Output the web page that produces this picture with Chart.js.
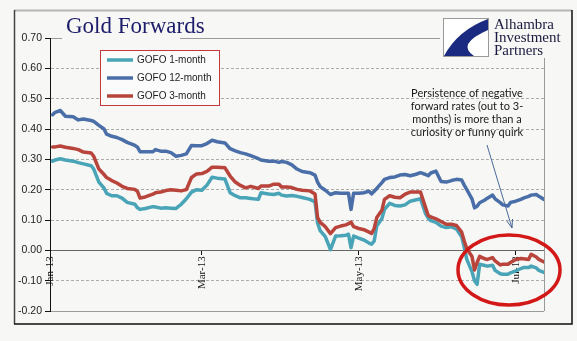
<!DOCTYPE html>
<html>
<head>
<meta charset="utf-8">
<script src="https://cdn.jsdelivr.net/npm/chart.js@4.4.0/dist/chart.umd.min.js"></script>
<style>
  body { margin: 0; background: #f7f7f5; }
  #wrap { width: 577px; height: 341px; }
</style>
</head>
<body>
<div id="wrap"><canvas id="chartGofo" width="577" height="341"></canvas></div>
<script>
// gold forward offered rates, 2013 (day 0 = 1 Jan)
let days = [1,2,4,6,9,11,13,16,17,19, 21,22,24,26,28,30,33,34,35,37,
  40,41,43,45,47,49,51,53,55,57, 59,61,63,65,68,70,72,74,76,78,
  81,82,85,87,89,90,92,94,96,98, 101,103,104,105,107,109,111,113,115,116,
  117,118,120,122,124,125,126,127,129,130, 132,134,136,138,140,142,144,146,147,148,
  150,152,154,156,158,160,161,162,164,165, 166,167,169,170,172,173,175,176,178,179,
  181,183,184,186,187,189,190,192];

let gofo1m = [0.294,0.298,0.302,0.298,0.294,0.289,0.285,0.279,0.268,0.225,
  0.205,0.188,0.180,0.180,0.172,0.158,0.152,0.140,0.135,0.138,
  0.144,0.143,0.139,0.140,0.139,0.138,0.152,0.170,0.192,0.200,
  0.198,0.215,0.241,0.238,0.235,0.190,0.180,0.173,0.173,0.171,
  0.168,0.190,0.186,0.184,0.188,0.182,0.179,0.181,0.178,0.174,
  0.168,0.160,0.090,0.065,0.045,0.002,0.047,0.048,0.050,0.053,
  0.009,0.047,0.040,0.034,0.024,0.020,0.031,0.080,0.105,0.135,
  0.155,0.148,0.146,0.150,0.162,0.166,0.170,0.120,0.106,0.098,
  0.092,0.080,0.075,0.078,0.070,0.045,0.010,-0.030,-0.070,-0.100,
  -0.112,-0.046,-0.050,-0.052,-0.049,-0.066,-0.077,-0.079,-0.079,-0.074,
  -0.068,-0.060,-0.057,-0.057,-0.052,-0.058,-0.066,-0.073];

let gofo12m = [0.447,0.455,0.461,0.442,0.440,0.430,0.433,0.428,0.425,0.412,
  0.400,0.383,0.376,0.372,0.365,0.356,0.346,0.340,0.325,0.325,
  0.325,0.332,0.327,0.327,0.322,0.310,0.313,0.318,0.346,0.345,
  0.345,0.352,0.363,0.358,0.354,0.335,0.328,0.322,0.318,0.312,
  0.302,0.298,0.294,0.294,0.290,0.293,0.290,0.282,0.268,0.260,
  0.256,0.248,0.225,0.210,0.198,0.184,0.190,0.188,0.188,0.188,
  0.135,0.188,0.188,0.190,0.195,0.186,0.195,0.204,0.223,0.234,
  0.240,0.242,0.248,0.250,0.246,0.250,0.256,0.250,0.246,0.255,
  0.261,0.227,0.225,0.230,0.234,0.232,0.215,0.200,0.170,0.140,
  0.145,0.157,0.166,0.172,0.182,0.170,0.157,0.150,0.146,0.158,
  0.162,0.168,0.172,0.178,0.182,0.184,0.178,0.168];

let gofo3m = [0.341,0.341,0.344,0.340,0.336,0.332,0.324,0.321,0.310,0.268,
  0.250,0.240,0.230,0.222,0.211,0.204,0.201,0.194,0.172,0.176,
  0.185,0.190,0.192,0.197,0.200,0.198,0.196,0.200,0.240,0.252,
  0.253,0.260,0.274,0.274,0.272,0.245,0.225,0.214,0.206,0.211,
  0.204,0.212,0.212,0.218,0.218,0.209,0.209,0.207,0.201,0.198,
  0.196,0.186,0.108,0.092,0.078,0.055,0.075,0.080,0.084,0.088,
  0.093,0.078,0.072,0.068,0.060,0.056,0.072,0.108,0.132,0.168,
  0.180,0.175,0.173,0.185,0.192,0.192,0.192,0.140,0.115,0.110,
  0.104,0.095,0.086,0.086,0.082,0.060,0.031,0.005,-0.020,-0.065,
  -0.040,-0.020,-0.028,-0.030,-0.024,-0.035,-0.048,-0.046,-0.046,-0.040,
  -0.030,-0.027,-0.028,-0.030,-0.013,-0.022,-0.030,-0.038];

let tickDays = [0, 59, 120, 181];
let tickLabels = ['Jan-13', 'Mar-13', 'May-13', 'Jul-13'];
let seriesNames = ['GOFO 1-month', 'GOFO 12-month', 'GOFO 3-month'];
let colorGofo = ['#48a4b6', '#4a6ea8', '#b8443b'];
let noteLines = ['Persistence of negative', 'forward rates (out to 3-', 'months) is more than a', 'curiosity or funny quirk'];

function pts(arr) {
  return days.map((d, i) => ({ x: d, y: arr[i] }));
}

function isEdge(v) {
  return Math.abs(v - 0.7) < 1e-6 || Math.abs(v + 0.2) < 1e-6;
}

// frame, title, logo, legend and the note drawn by hand
let decor = {
  id: 'decor',
  beforeDraw(chart) {
    let ctx = chart.ctx;
    ctx.save();
    ctx.fillStyle = '#f7f7f5';
    ctx.fillRect(0, 0, chart.width, chart.height);
    ctx.restore();
  },
  afterDraw(chart) {
    let ctx = chart.ctx;
    let area = chart.chartArea;
    ctx.save();

    // plot border right side
    ctx.strokeStyle = '#9a9a9a';
    ctx.lineWidth = 1;
    ctx.beginPath();
    ctx.moveTo(area.right + 0.5, 58);
    ctx.lineTo(area.right + 0.5, area.bottom);
    ctx.stroke();

    // outer frame
    ctx.strokeStyle = '#b5b5b5';
    ctx.lineWidth = 2;
    ctx.beginPath();
    ctx.moveTo(14, 10.5); ctx.lineTo(572, 10.5);
    ctx.stroke();
    ctx.strokeStyle = '#444';
    ctx.lineWidth = 1.5;
    ctx.beginPath();
    ctx.moveTo(14.5, 10); ctx.lineTo(14.5, 324);
    ctx.stroke();
    ctx.strokeStyle = '#111';
    ctx.beginPath();
    ctx.moveTo(14, 324); ctx.lineTo(572, 324); ctx.lineTo(572, 10);
    ctx.stroke();

    // title
    ctx.fillStyle = '#f7f7f5';
    ctx.fillRect(62, 12, 118, 28);
    ctx.fillStyle = '#1c1c6b';
    ctx.font = '23px "Liberation Serif"';
    ctx.textBaseline = 'alphabetic';
    ctx.textAlign = 'left';
    ctx.fillText('Gold Forwards', 66, 33);

    // logo
    ctx.fillStyle = '#f7f7f5';
    ctx.fillRect(440, 12, 131, 46);
    ctx.fillStyle = '#ffffff';
    ctx.fillRect(443, 18, 45, 38);
    ctx.strokeStyle = '#9a9a9a';
    ctx.lineWidth = 1;
    ctx.strokeRect(443.5, 18.5, 45, 38);
    ctx.fillStyle = '#1a2a80';
    ctx.beginPath();
    ctx.moveTo(488, 19);
    ctx.quadraticCurveTo(458, 30, 444, 56);
    ctx.lineTo(474, 56);
    ctx.quadraticCurveTo(456, 44, 488, 30);
    ctx.closePath();
    ctx.fill();
    ctx.fillStyle = '#1a1a40';
    ctx.font = '15px "Liberation Serif"';
    ctx.fillText('Alhambra', 494, 29);
    ctx.fillText('Investment', 494, 42);
    ctx.fillText('Partners', 494, 55);

    // legend
    ctx.fillStyle = '#fbfbfb';
    ctx.fillRect(100, 50, 119, 55);
    ctx.strokeStyle = '#c0393b';
    ctx.lineWidth = 1;
    ctx.strokeRect(100.5, 50.5, 119, 55);
    ctx.font = '10px "Liberation Sans"';
    ctx.textBaseline = 'middle';
    seriesNames.forEach((name, i) => {
      let y = 60 + i * 18;
      ctx.strokeStyle = colorGofo[i];
      ctx.lineWidth = 3.5;
      ctx.beginPath();
      ctx.moveTo(107, y); ctx.lineTo(133, y);
      ctx.stroke();
      ctx.fillStyle = '#222';
      ctx.fillText(name, 137, y);
    });

    // note
    ctx.font = '11px Lato';
    ctx.textAlign = 'center';
    ctx.fillStyle = '#1a1a1a';
    noteLines.forEach((line, i) => ctx.fillText(line, 467, 93 + i * 13));

    // arrow
    let x0 = 487, y0 = 145, x1 = 512, y1 = 228;
    let ang = Math.atan2(y1 - y0, x1 - x0);
    ctx.strokeStyle = '#4a6a9a';
    ctx.lineWidth = 1;
    ctx.beginPath();
    ctx.moveTo(x0, y0); ctx.lineTo(x1, y1);
    ctx.moveTo(x1 - 9 * Math.cos(ang - 0.35), y1 - 9 * Math.sin(ang - 0.35));
    ctx.lineTo(x1, y1);
    ctx.lineTo(x1 - 9 * Math.cos(ang + 0.35), y1 - 9 * Math.sin(ang + 0.35));
    ctx.stroke();

    // red ring
    ctx.strokeStyle = '#d31818';
    ctx.lineWidth = 3.5;
    ctx.beginPath();
    ctx.ellipse(509, 270, 51, 35, 0, 0, Math.PI * 2);
    ctx.stroke();

    ctx.restore();
  }
};

let chartGofo = new Chart(document.getElementById('chartGofo'), {
  type: 'line',
  data: {
    datasets: [
      { label: seriesNames[0], data: pts(gofo1m), borderColor: colorGofo[0], order: 2 },
      { label: seriesNames[1], data: pts(gofo12m), borderColor: colorGofo[1], order: 1 },
      { label: seriesNames[2], data: pts(gofo3m), borderColor: colorGofo[2], order: 0 }
    ]
  },
  options: {
    responsive: false,
    animation: false,
    devicePixelRatio: 1,
    layout: { padding: { left: 0, top: 38, right: 33, bottom: 30 } },
    elements: {
      point: { radius: 0 },
      line: { borderWidth: 3.5, tension: 0, borderJoinStyle: 'round', borderCapStyle: 'round' }
    },
    plugins: {
      legend: { display: false },
      tooltip: { enabled: false }
    },
    scales: {
      x: {
        type: 'linear',
        position: { y: 0 },
        min: 0,
        max: 192,
        afterBuildTicks: s => { s.ticks = tickDays.map(v => ({ value: v })); },
        ticks: {
          autoSkip: false,
          minRotation: 90,
          maxRotation: 90,
          padding: 2,
          color: '#111',
          font: { family: 'Liberation Serif', size: 11 },
          callback: v => tickLabels[tickDays.indexOf(v)]
        },
        grid: { drawOnChartArea: false, tickLength: 4, tickColor: '#111' },
        border: { color: '#666', width: 1 }
      },
      y: {
        min: -0.2,
        max: 0.7,
        afterFit: s => { s.width = 50; },
        ticks: {
          stepSize: 0.1,
          padding: 3,
          color: '#222',
          font: { family: 'Liberation Sans', size: 10.5 },
          callback: v => Math.abs(v) < 1e-9 ? '0.00' : v.toFixed(2)
        },
        grid: {
          color: c => (c.tick && isEdge(c.tick.value)) ? '#9a9a9a' : '#ababab',
          tickLength: 5,
          tickColor: '#111',
          tickBorderDash: []
        },
        border: {
          color: '#111',
          dash: c => (c.tick && !isEdge(c.tick.value)) ? [3, 2] : []
        }
      }
    }
  },
  plugins: [decor]
});
</script>
</body>
</html>
